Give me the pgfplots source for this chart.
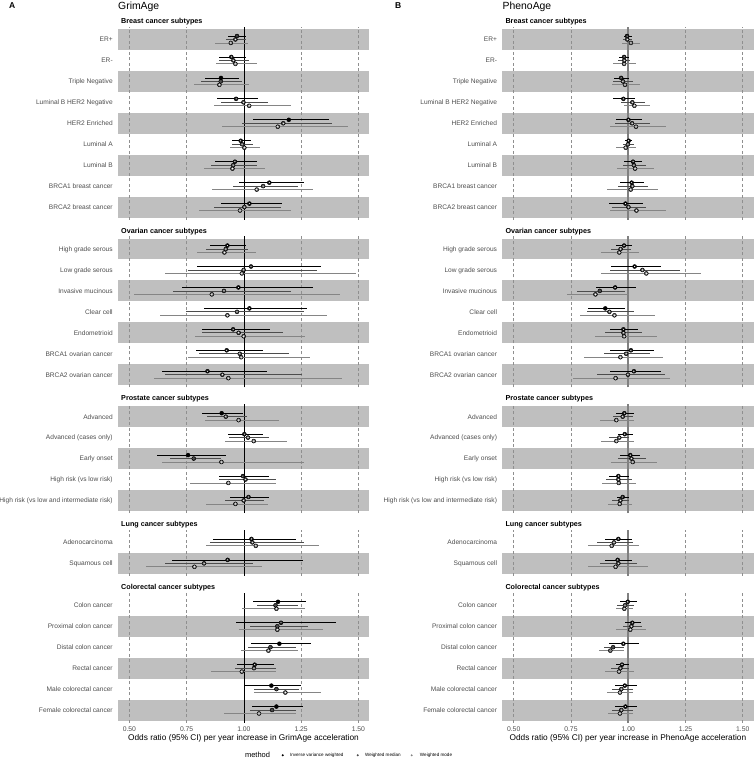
\documentclass[border=0pt]{standalone}
\usepackage{fontspec}
\setmainfont{Liberation Sans}
\usepackage{pgfplots}
\usepackage{pgfplotstable}
\pgfplotsset{compat=1.18}
\definecolor{cIV}{HTML}{000000}
\definecolor{cMD}{HTML}{4D4D4D}
\definecolor{cMO}{HTML}{858585}
\definecolor{bandc}{HTML}{BFBFBF}
\definecolor{gridc}{HTML}{8F8F8F}
\definecolor{lab}{HTML}{4D4D4D}

% GrimAge
\pgfplotstableread{
pos iv ivl ivh ivs md mdl mdh mds mo mol moh mos
9 0.970 0.932 1.009 o 0.963 0.922 1.009 o 0.943 0.874 1.020 o
8 0.945 0.890 1.008 o 0.954 0.890 1.023 o 0.963 0.878 1.056 o
7 0.900 0.830 0.979 f 0.899 0.813 0.993 f 0.893 0.784 1.021 o
6 0.966 0.881 1.060 o 0.998 0.900 1.107 o 1.023 0.870 1.205 o
5 1.196 1.041 1.372 f 1.172 0.993 1.386 o 1.148 0.905 1.453 o
4 0.986 0.947 1.030 o 0.992 0.947 1.041 o 1.002 0.940 1.072 o
3 0.961 0.874 1.059 o 0.953 0.855 1.059 o 0.950 0.826 1.092 o
2 1.111 0.980 1.263 o 1.084 0.951 1.235 o 1.056 0.861 1.301 o
1 1.024 0.900 1.167 o 1.002 0.868 1.161 o 0.983 0.803 1.206 o
}\gB
\pgfplotstableread{
pos iv ivl ivh ivs md mdl mdh mds mo mol moh mos
7 0.928 0.852 1.009 o 0.921 0.833 1.018 o 0.915 0.797 1.053 o
6 1.031 0.796 1.336 o 0.999 0.758 1.318 o 0.991 0.657 1.490 o
5 0.976 0.731 1.303 o 0.913 0.692 1.206 o 0.860 0.520 1.421 o
4 1.024 0.825 1.274 o 0.970 0.747 1.261 o 0.928 0.634 1.363 o
3 0.953 0.816 1.114 o 0.977 0.817 1.170 o 0.999 0.788 1.267 o
2 0.925 0.791 1.084 o 0.982 0.806 1.196 o 0.988 0.758 1.289 o
1 0.841 0.644 1.100 o 0.906 0.654 1.254 o 0.932 0.609 1.427 o
}\gO
\pgfplotstableread{
pos iv ivl ivh ivs md mdl mdh mds mo mol moh mos
5 0.903 0.819 0.996 f 0.921 0.838 1.014 o 0.977 0.828 1.155 o
4 1.002 0.931 1.082 o 1.018 0.937 1.110 o 1.043 0.919 1.187 o
3 0.756 0.622 0.921 f 0.781 0.679 0.900 f 0.902 0.644 1.264 o
2 0.996 0.893 1.111 o 1.007 0.892 1.139 o 0.932 0.765 1.138 o
1 1.020 0.940 1.108 o 0.999 0.919 1.087 o 0.963 0.836 1.106 o
}\gP
\pgfplotstableread{
pos iv ivl ivh ivs md mdl mdh mds mo mol moh mos
2 1.033 0.867 1.229 o 1.037 0.854 1.261 o 1.052 0.835 1.327 o
1 0.929 0.685 1.257 o 0.826 0.657 1.039 o 0.784 0.571 1.078 o
}\gL
\pgfplotstableread{
pos iv ivl ivh ivs md mdl mdh mds mo mol moh mos
6 1.149 1.041 1.270 f 1.138 1.056 1.235 f 1.142 0.993 1.267 o
5 1.162 0.966 1.400 o 1.146 1.027 1.282 f 1.146 0.977 1.347 o
4 1.155 1.031 1.292 f 1.116 1.017 1.228 f 1.107 0.988 1.238 o
3 1.047 0.970 1.132 o 1.044 0.959 1.142 o 0.991 0.857 1.142 o
2 1.120 1.002 1.251 f 1.142 1.046 1.242 f 1.181 1.044 1.336 o
1 1.142 1.034 1.257 f 1.123 1.027 1.228 f 1.066 0.915 1.228 o
}\gC
% PhenoAge
\pgfplotstableread{
pos iv ivl ivh ivs md mdl mdh mds mo mol moh mos
9 0.995 0.980 1.017 o 0.996 0.977 1.017 o 1.012 0.975 1.053 o
8 0.982 0.961 1.002 o 0.983 0.954 1.009 o 0.982 0.934 1.033 o
7 0.969 0.937 1.002 o 0.977 0.934 1.021 o 0.986 0.929 1.053 o
6 0.979 0.934 1.028 o 1.018 0.970 1.072 o 1.027 0.980 1.094 o
5 1.001 0.945 1.060 o 1.017 0.941 1.097 o 1.034 0.919 1.167 o
4 1.002 0.986 1.018 o 0.999 0.977 1.024 o 0.989 0.948 1.033 o
3 1.021 0.980 1.060 o 1.025 0.976 1.079 o 1.030 0.951 1.114 o
2 1.015 0.964 1.068 o 1.018 0.957 1.085 o 1.011 0.908 1.129 o
1 0.988 0.918 1.063 o 1.001 0.931 1.076 o 1.036 0.921 1.164 o
}\pB
\pgfplotstableread{
pos iv ivl ivh ivs md mdl mdh mds mo mol moh mos
7 0.982 0.948 1.017 o 0.967 0.924 1.012 o 0.961 0.883 1.049 o
6 1.028 0.926 1.143 o 1.062 0.919 1.226 o 1.079 0.883 1.318 o
5 0.943 0.858 1.036 o 0.876 0.778 0.988 f 0.857 0.733 1.002 o
4 0.900 0.825 0.985 f 0.918 0.820 1.024 o 0.940 0.791 1.116 o
3 0.979 0.919 1.043 o 0.979 0.900 1.060 o 0.982 0.857 1.126 o
2 1.012 0.919 1.111 o 0.991 0.896 1.094 o 0.966 0.809 1.152 o
1 1.025 0.919 1.143 o 0.999 0.864 1.159 o 0.945 0.758 1.181 o
}\pO
\pgfplotstableread{
pos iv ivl ivh ivs md mdl mdh mds mo mol moh mos
5 0.983 0.948 1.024 o 0.976 0.934 1.021 o 0.948 0.878 1.024 o
4 0.985 0.954 1.020 o 0.961 0.918 1.005 o 0.948 0.883 1.024 o
3 1.009 0.966 1.053 o 1.014 0.954 1.076 o 1.020 0.925 1.126 o
2 0.957 0.918 1.002 o 0.957 0.903 1.017 o 0.959 0.887 1.036 o
1 0.976 0.951 1.005 o 0.966 0.931 1.002 o 0.963 0.910 1.017 o
}\pP
\pgfplotstableread{
pos iv ivl ivh ivs md mdl mdh mds mo mol moh mos
2 0.957 0.900 1.017 o 0.938 0.864 1.020 o 0.928 0.825 1.046 o
1 0.954 0.897 1.017 o 0.957 0.878 1.039 o 0.945 0.825 1.085 o
}\pL
\pgfplotstableread{
pos iv ivl ivh ivs md mdl mdh mds mo mol moh mos
6 0.998 0.963 1.039 o 0.986 0.951 1.024 o 0.983 0.948 1.020 o
5 1.018 0.985 1.058 o 1.014 0.976 1.060 o 1.009 0.948 1.079 o
4 0.979 0.918 1.046 o 0.934 0.893 0.980 f 0.922 0.871 0.980 f
3 0.973 0.947 1.002 o 0.966 0.926 1.005 o 0.960 0.897 1.024 o
2 0.985 0.941 1.039 o 0.970 0.929 1.020 o 0.964 0.908 1.020 o
1 0.988 0.941 1.039 o 0.970 0.929 1.020 o 0.964 0.912 1.021 o
}\pC

\newcommand{\meth}[4]{%
\addplot[forget plot, only marks, mark=none, error bars/.cd, x dir=both, x explicit, error mark=none,
  error bar style={line width=0.75pt, draw=#3, solid}]
  table[x=#2, y expr={\thisrow{pos}#4}, x error plus expr={\thisrow{#2h}-\thisrow{#2}}, x error minus expr={\thisrow{#2}-\thisrow{#2l}}] {#1};
\addplot[forget plot, only marks, scatter, point meta=explicit symbolic, mark size=1.3pt,
  scatter/classes={o={mark=*, draw=#3, fill=white, line width=0.5pt}, f={mark=*, draw=#3, fill=#3, line width=0.5pt}}]
  table[x=#2, y expr={\thisrow{pos}#4}, meta=#2s] {#1};
}
\newcommand{\facetbody}[4]{%
\pgfplotsinvokeforeach{#3}{\fill[bandc] (axis cs:0.449,{##1-0.5}) rectangle (axis cs:1.548,{##1+0.5});}
\pgfplotsinvokeforeach{0.5,0.75,1.25,1.5}{\draw[gridc, line width=0.45pt, dash pattern=on 3pt off 2.5pt] (axis cs:##1,0.4) -- (axis cs:##1,#2);}
\draw[#4] (axis cs:1,0.4) -- (axis cs:1,#2);
\meth{#1}{mo}{cMO}{-0.165}
\meth{#1}{md}{cMD}{+0}
\meth{#1}{iv}{cIV}{+0.165}
}

\pgfplotsset{
fac/.style={scale only axis, width=251.7pt, anchor=north west, xmin=0.449, xmax=1.548, ymin=0.4,
  axis line style={draw=none}, major tick length=0pt, tick style={draw=none}, xtick=\empty, clip=false,
  yticklabel style={font=\fontsize{6.6}{7}\selectfont, text=lab, anchor=base east, inner sep=0pt, xshift=-4.8pt, yshift=-2.37pt}},
bot/.style={xtick={0.5,0.75,1,1.25,1.5}, xticklabels={0.50,0.75,1.00,1.25,1.50},
  xticklabel style={font=\fontsize{6.8}{7}\selectfont, text=lab, anchor=base, inner sep=0pt, yshift=-8.8pt}},
}
\tikzset{zl/.style={line width=0.6pt, black}, zr/.style={line width=1.5pt, color=black!50}}
\newcommand{\hd}[3]{\node[anchor=base west, inner sep=0pt, font=\fontsize{7.2}{8}\selectfont\bfseries] at (#1pt,-#2pt) {#3};}

\begin{document}
\begin{tikzpicture}
\useasboundingbox (0,0) rectangle (754pt,-760pt);
% titles
\node[anchor=base west, inner sep=0pt, font=\fontsize{8.5}{10}\selectfont\bfseries] at (9pt,-8.3pt) {A};
\node[anchor=base west, inner sep=0pt, font=\fontsize{10.4}{12}\selectfont] at (118pt,-9.3pt) {GrimAge};
\node[anchor=base west, inner sep=0pt, font=\fontsize{8.5}{10}\selectfont\bfseries] at (395pt,-8.3pt) {B};
\node[anchor=base west, inner sep=0pt, font=\fontsize{10.4}{12}\selectfont] at (502.5pt,-9.3pt) {PhenoAge};
% headings
\foreach \xx in {121,505.3}{
\hd{\xx}{23.6}{Breast cancer subtypes}
\hd{\xx}{233.14}{Ovarian cancer subtypes}
\hd{\xx}{400.78}{Prostate cancer subtypes}
\hd{\xx}{526.52}{Lung cancer subtypes}
\hd{\xx}{589.41}{Colorectal cancer subtypes}
}
% ---------- GrimAge ----------
\begin{axis}[fac, at={(117.7pt,-26.9pt)}, height=192.74pt, ymax=9.6, ytick={1,...,9},
  yticklabels={BRCA2 breast cancer,BRCA1 breast cancer,Luminal B,Luminal A,HER2 Enriched,Luminal B HER2 Negative,Triple Negative,ER-,ER+}]
\facetbody{\gB}{9.6}{1,3,5,7,9}{zl}
\end{axis}
\begin{axis}[fac, at={(117.7pt,-236.44pt)}, height=150.84pt, ymax=7.6, ytick={1,...,7},
  yticklabels={BRCA2 ovarian cancer,BRCA1 ovarian cancer,Endometrioid,Clear cell,Invasive mucinous,Low grade serous,High grade serous}]
\facetbody{\gO}{7.6}{1,3,5,7}{zl}
\end{axis}
\begin{axis}[fac, at={(117.7pt,-404.08pt)}, height=108.94pt, ymax=5.6, ytick={1,...,5},
  yticklabels={High risk (vs low and intermediate risk),High risk (vs low risk),Early onset,Advanced (cases only),Advanced}]
\facetbody{\gP}{5.6}{1,3,5}{zl}
\end{axis}
\begin{axis}[fac, at={(117.7pt,-529.82pt)}, height=46.09pt, ymax=2.6, ytick={1,2},
  yticklabels={Squamous cell,Adenocarcinoma}]
\facetbody{\gL}{2.6}{1}{zl}
\end{axis}
\begin{axis}[fac, bot, at={(117.7pt,-592.71pt)}, height=129.89pt, ymax=6.6, ytick={1,...,6},
  yticklabels={Female colorectal cancer,Male colorectal cancer,Rectal cancer,Distal colon cancer,Proximal colon cancer,Colon cancer},
  legend columns=-1,
  legend style={at={(axis description cs:0.5058,-0.2517)}, anchor=west, draw=none, fill=none, inner sep=0pt, outer sep=0pt,
    font=\fontsize{4.6}{5.5}\selectfont, column sep=0pt, nodes={inner sep=0pt, outer sep=0pt}}]
\facetbody{\gC}{6.6}{1,3,5}{zl}
\addlegendimage{legend image code/.code={\path[draw=none,fill=none] (0pt,-1pt) rectangle (0pt,1pt);}}
\addlegendentry{\fontsize{7.5}{9}\selectfont method}
\addlegendimage{legend image code/.code={\path[draw=none,fill=none] (0pt,-1pt) rectangle (20pt,1pt); \fill[cIV, draw=none] (12.7pt,0pt) circle (1.1pt);}}
\addlegendentry{Inverse variance weighted}
\addlegendimage{legend image code/.code={\path[draw=none,fill=none] (0pt,-1pt) rectangle (21.6pt,1pt); \fill[cMD, draw=none] (14.3pt,0pt) circle (1.1pt);}}
\addlegendentry{Weighted median}
\addlegendimage{legend image code/.code={\path[draw=none,fill=none] (0pt,-1pt) rectangle (19.2pt,1pt); \fill[cMO, draw=none] (10.9pt,0pt) circle (1.1pt);}}
\addlegendentry{Weighted mode}
\end{axis}
% ---------- PhenoAge ----------
\begin{axis}[fac, at={(502pt,-26.9pt)}, height=192.74pt, ymax=9.6, ytick={1,...,9},
  yticklabels={BRCA2 breast cancer,BRCA1 breast cancer,Luminal B,Luminal A,HER2 Enriched,Luminal B HER2 Negative,Triple Negative,ER-,ER+}]
\facetbody{\pB}{9.6}{1,3,5,7,9}{zr}
\end{axis}
\begin{axis}[fac, at={(502pt,-236.44pt)}, height=150.84pt, ymax=7.6, ytick={1,...,7},
  yticklabels={BRCA2 ovarian cancer,BRCA1 ovarian cancer,Endometrioid,Clear cell,Invasive mucinous,Low grade serous,High grade serous}]
\facetbody{\pO}{7.6}{1,3,5,7}{zr}
\end{axis}
\begin{axis}[fac, at={(502pt,-404.08pt)}, height=108.94pt, ymax=5.6, ytick={1,...,5},
  yticklabels={High risk (vs low and intermediate risk),High risk (vs low risk),Early onset,Advanced (cases only),Advanced}]
\facetbody{\pP}{5.6}{1,3,5}{zr}
\end{axis}
\begin{axis}[fac, at={(502pt,-529.82pt)}, height=46.09pt, ymax=2.6, ytick={1,2},
  yticklabels={Squamous cell,Adenocarcinoma}]
\facetbody{\pL}{2.6}{1}{zr}
\end{axis}
\begin{axis}[fac, bot, at={(502pt,-592.71pt)}, height=129.89pt, ymax=6.6, ytick={1,...,6},
  yticklabels={Female colorectal cancer,Male colorectal cancer,Rectal cancer,Distal colon cancer,Proximal colon cancer,Colon cancer}]
\facetbody{\pC}{6.6}{1,3,5}{zr}
\end{axis}
% axis titles
\node[anchor=base, inner sep=0pt, font=\fontsize{8.3}{10}\selectfont] at (243.5pt,-740.3pt) {Odds ratio (95\% CI) per year increase in GrimAge acceleration};
\node[anchor=base, inner sep=0pt, font=\fontsize{8.3}{10}\selectfont] at (627.9pt,-740.3pt) {Odds ratio (95\% CI) per year increase in PhenoAge acceleration};
\end{tikzpicture}
\end{document}
